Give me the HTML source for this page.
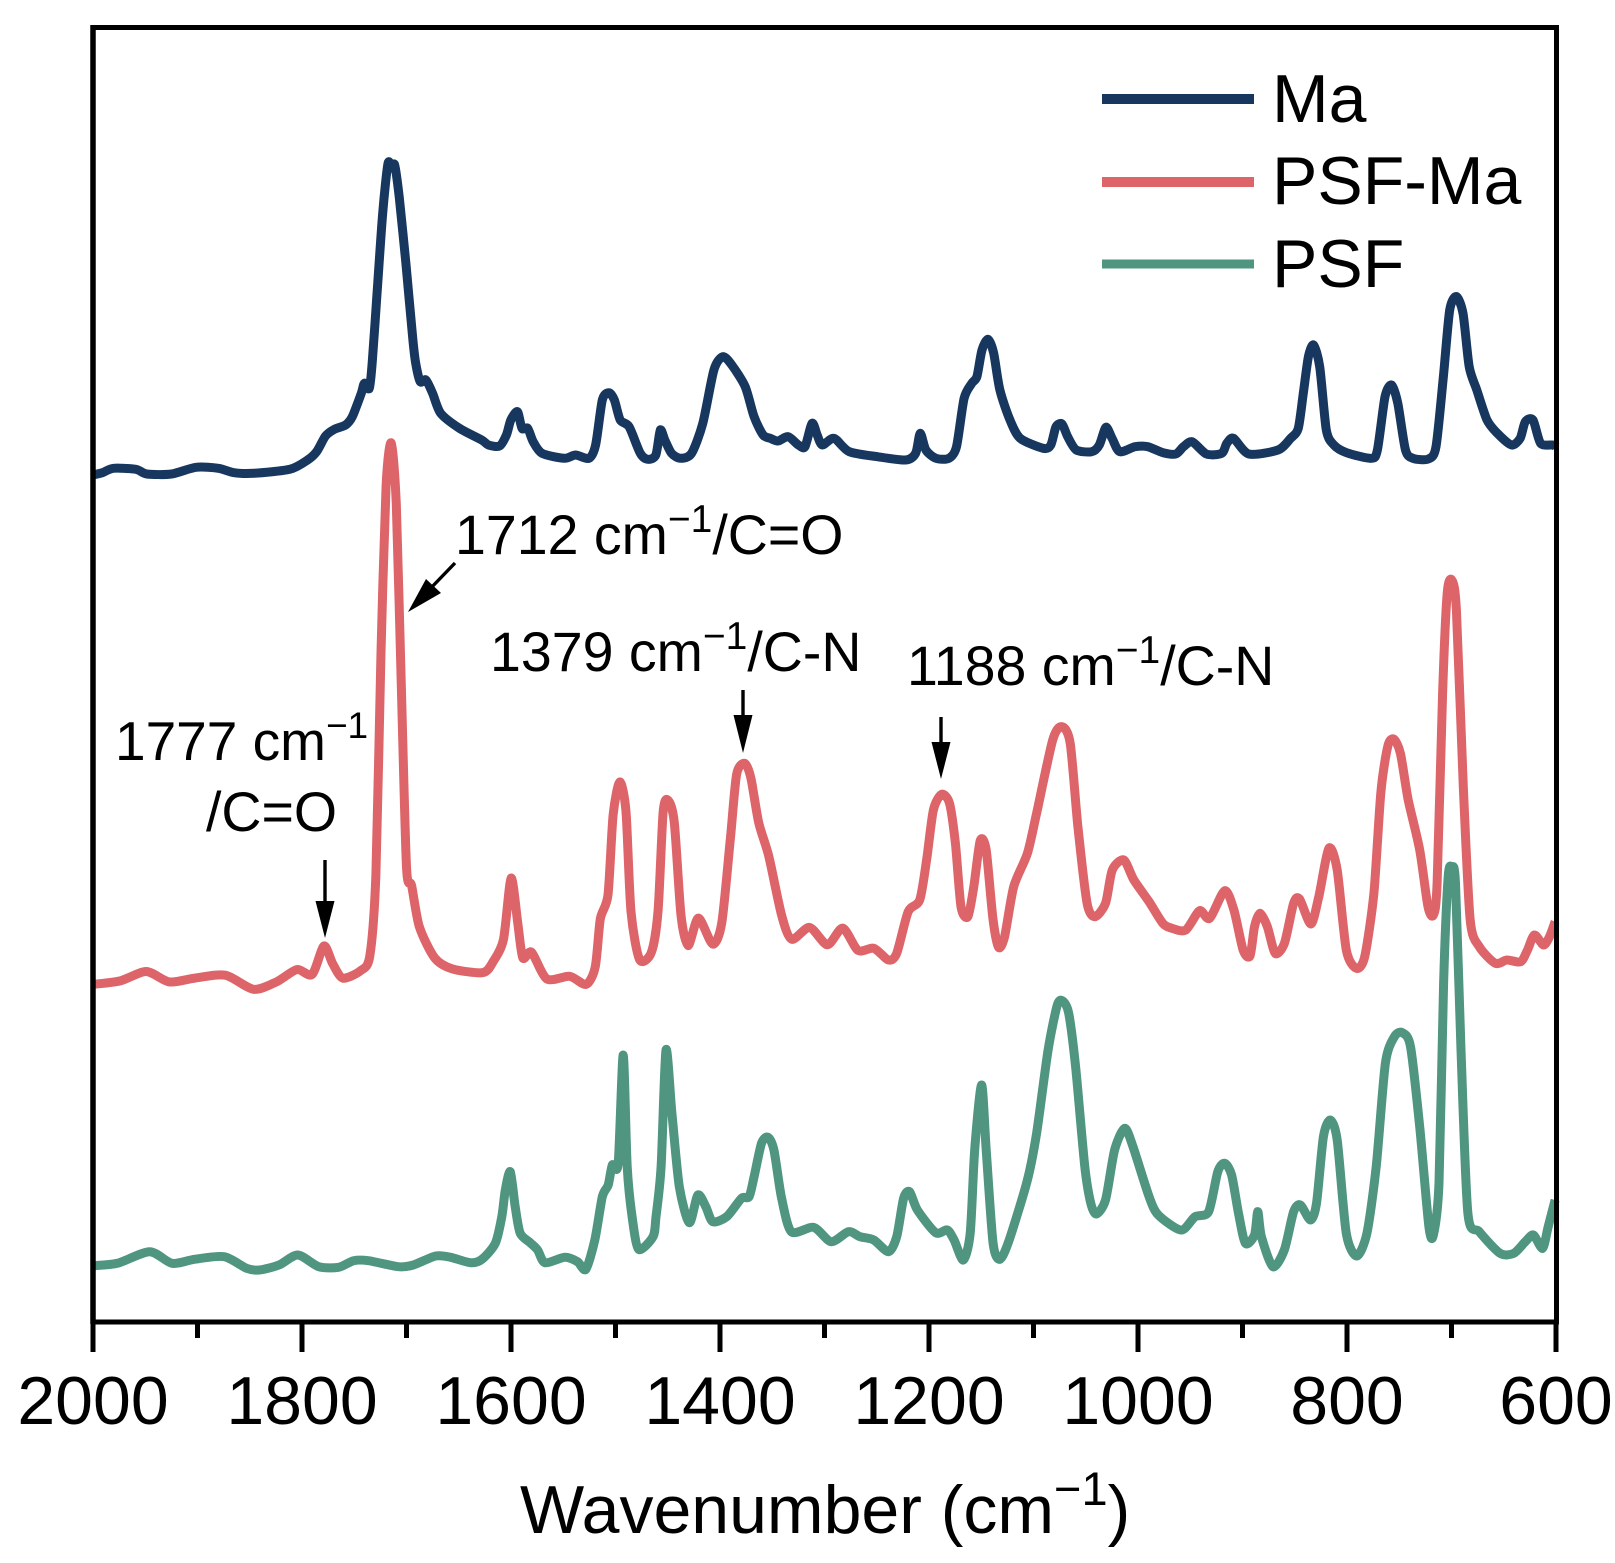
<!DOCTYPE html>
<html lang="en">
<head>
<meta charset="utf-8">
<title>FTIR spectra of Ma, PSF-Ma and PSF</title>
<style>
html,body{margin:0;padding:0;background:#fff;}
svg{display:block;}
text{font-family:"Liberation Sans",Arial,sans-serif;fill:#000;}
</style>
</head>
<body>
<svg id="chart" xmlns="http://www.w3.org/2000/svg" width="1615" height="1563" viewBox="0 0 1615 1563">
  <rect x="0" y="0" width="1615" height="1563" fill="#ffffff"/>
  <g id="series-layer"></g>
  <g id="tick-layer"></g>
  <g id="frame">
    <line x1="90.5" y1="27.5" x2="1559" y2="27.5" stroke="#000" stroke-width="5"/>
    <line x1="90.5" y1="1322" x2="1559" y2="1322" stroke="#000" stroke-width="5"/>
    <line x1="93" y1="25" x2="93" y2="1324" stroke="#000" stroke-width="5.5"/>
    <line x1="1556.5" y1="25" x2="1556.5" y2="1324" stroke="#000" stroke-width="5"/>
  </g>
  <g id="label-layer" font-size="68" text-anchor="middle"></g>
  <text x="520" y="1533" font-size="68">Wavenumber (cm<tspan font-size="47" dy="-28">−1</tspan><tspan dy="28">)</tspan></text>

  <g font-size="68">
    <g>
      <line x1="1102" y1="99" x2="1254" y2="99" stroke="#17375f" stroke-width="10"/>
      <text x="1272" y="122">Ma</text>
    </g>
    <g>
      <line x1="1102" y1="182" x2="1254" y2="182" stroke="#dd6468" stroke-width="10"/>
      <text x="1272" y="204">PSF-Ma</text>
    </g>
    <g>
      <line x1="1102" y1="264" x2="1254" y2="264" stroke="#4f9580" stroke-width="9"/>
      <text x="1272" y="287">PSF</text>
    </g>
  </g>

  <g font-size="55.5">
    <text x="455" y="554">1712 cm<tspan font-size="39" dy="-22">−1</tspan><tspan dy="22">/C=O</tspan></text>
    <text x="490" y="671">1379 cm<tspan font-size="39" dy="-22">−1</tspan><tspan dy="22">/C-N</tspan></text>
    <text x="907" y="685">1188 cm<tspan font-size="39" dy="-22">−1</tspan><tspan dy="22">/C-N</tspan></text>
    <text x="115" y="760" font-size="55">1777 cm<tspan font-size="37" dy="-22">−1</tspan></text>
    <text x="206" y="831">/C=O</text>
  </g>

  <g fill="#000" stroke="none">
    <g>
      <line x1="325" y1="860" x2="325" y2="905" stroke="#000" stroke-width="3.4"/>
      <polygon points="315.5,901 334.5,901 325,938"/>
    </g>
    <g>
      <line x1="743" y1="690" x2="743" y2="720" stroke="#000" stroke-width="3.4"/>
      <polygon points="733.5,715 752.5,715 743,753"/>
    </g>
    <g>
      <line x1="941" y1="717" x2="941" y2="747" stroke="#000" stroke-width="3.4"/>
      <polygon points="931.5,742 950.5,742 941,779"/>
    </g>
    <g>
      <line x1="455" y1="563" x2="428" y2="591" stroke="#000" stroke-width="3.4"/>
      <polygon points="426,579 441,593 408,612"/>
    </g>
  </g>
</svg>
<script>
const majorTickValues = [2000, 1800, 1600, 1400, 1200, 1000, 800, 600];
const minorTickValues = [1900, 1700, 1500, 1300, 1100, 900, 700];
const tickLabels = ["2000", "1800", "1600", "1400", "1200", "1000", "800", "600"];

const maWavenumbers = [2000,1991,1980.4,1959,1948.4,1924.9,1901.4,1880,1865,1845.8,1811.6,1794.6,1786,1777.5,1769,1758.3,1751.9,1743.3,1740.3,1735.6,1732.6,1728.4,1722.8,1717.7,1714.2,1711.3,1707,1700.6,1694.2,1691.2,1686.9,1681.4,1675,1667.3,1649.3,1628,1621.6,1610.9,1604.4,1600.2,1593.8,1589.5,1584,1578.8,1570.3,1548.9,1538.2,1525.4,1519,1512.6,1506.2,1501.1,1495.5,1487,1476.3,1469,1461.4,1457.1,1452.8,1446.4,1437.8,1427.2,1416.5,1405.8,1397.3,1388.7,1375.9,1367.4,1358.8,1351.9,1344.6,1334.8,1325,1318.7,1311.9,1307,1302.1,1290.9,1276.3,1249.4,1222.6,1212.8,1208.4,1203,1193.3,1181,1173.7,1166.4,1159,1154.2,1149.3,1143.5,1138.1,1132.2,1122.5,1112.7,1090.7,1083.4,1078.5,1072.7,1067.3,1059,1044.4,1037,1030.7,1024.8,1017.5,1002.9,990.7,976,963.8,956.5,948.2,934.5,919.9,915,908.6,894,866,853.9,846.6,841.8,836.9,832,826.1,819.8,812.5,800.3,776.8,770.9,763.6,757.3,751.4,744,736.8,722.2,714.8,707.5,701.7,695.3,689,683.1,675.8,666,656.2,642.6,634.3,629.4,622,614.7,602.5,600];
const maIntensity = [847,849.3,853.7,852.7,848,848,854.7,853.7,849.3,848.7,852.7,862,870.3,886,892.7,897,905.3,928.7,938.7,933.7,962,1025.3,1108.7,1158.5,1154,1157,1125.3,1058.7,985.3,958.7,940.3,942,928.7,908.7,893.7,882,877,876,887,902,910.3,893.7,893.7,880.3,868.7,863.7,867,863.7,877,922,929.3,922,902,895.3,868.7,862.7,867,892,882,868.7,863.7,868.7,898.7,952,965.3,957,935.3,905.3,887,883.7,881,885.3,877,875.3,898.7,887,877,883.7,870.3,865.3,862,868.7,888.7,872,863.7,863.7,875.3,923.7,938.7,945.3,972,982.7,968.7,932,902,883.7,873.7,877,895.3,898,885.3,872,870.3,877,894.7,883.7,870.3,875.3,875.3,869.3,868,875.3,880.3,868,868.7,878.7,883.7,868,872,883.7,893.7,928.7,965.3,977,955.3,892,877,869.3,863.7,872,925.3,937,918.7,872,863.7,863,875.3,948.7,1012,1025.5,1008.7,955.3,932,902,888.7,877,883.7,900.3,902,878.7,877,875];

const psfMaWavenumbers = [2000,1973.4,1949,1927,1902.6,1873.3,1846.4,1824.5,1805,1790.3,1779,1770.8,1761,1743.9,1735.1,1729.3,1724.4,1719.5,1714.6,1709.8,1704.9,1700,1695.1,1687.8,1673.1,1656,1626.8,1617,1607.2,1599.9,1593.6,1588.7,1580.4,1565.7,1543.8,1528.1,1519.4,1514.5,1507.2,1502.3,1495.9,1490,1485.2,1476.9,1465.6,1459.3,1454.4,1449.6,1443.7,1437.3,1430.5,1420.7,1407,1398.3,1390,1384.1,1376.3,1370.4,1363,1353.4,1341.1,1331.4,1314.3,1297.2,1282.6,1267.9,1252.8,1238.8,1230.9,1219.9,1208.9,1202.3,1195.8,1187.9,1180.4,1174.7,1169.4,1162.8,1157.1,1151,1145.3,1138.7,1133.4,1127.7,1118.9,1105.8,1097,1081.6,1072.8,1064.9,1057.5,1048.7,1041.2,1031.1,1024.6,1013.6,1003.9,989.4,976.3,967.5,954.3,941.1,931.5,917,908.2,899.4,892.8,888.5,883.2,876.2,868.7,859.9,851.1,845.4,834.5,827,817.3,809.4,800.7,791,783.1,774.3,767.7,761.1,755.4,748.9,741.4,730.4,722.5,717.3,713.8,708.5,704.1,699.7,695.3,688.7,682.1,673.4,658,647,633.8,627.3,620.7,611.9,606.2,600.9];
const psfMaIntensity = [337.6,341.3,350.5,340.1,343.9,346.8,332.7,340.1,352.4,347.6,376,358.7,343.9,351.3,366,447.6,669.8,836.4,879,817.9,632.7,455,436.4,395.7,364.2,353.1,349.4,360.5,382.7,443.9,399.4,364.2,369.8,343.1,345.7,337.6,355,403.1,427.2,506.8,540.1,510.5,410.5,362.4,369.8,410.5,510.5,521.6,499.4,406.8,376.4,403.9,377.9,399.4,484.6,547.6,558.7,543.9,499.4,466.1,406.8,382.7,394.6,377.2,393.9,371.6,373.7,362,368.7,410.3,422,462,512,527.7,518.7,478.7,415.3,405.3,435.3,481.3,472,402,374.7,385.3,435.3,468.7,508.7,582,595.3,578.7,495.3,418.7,405.3,418.7,452,462,442,420.3,398.7,393.7,392,411.3,403.7,431.3,412,372,366,395.3,408.7,395.3,368.7,378.7,418.7,423,398,425.3,473.7,452,372,353.7,365.3,428.7,528.7,575.3,583,568.7,522,472,415.3,407,438.7,628.7,728.7,742,712,535.3,402,375.3,358.7,362,360.3,372,387,377,385.3,400.3];

const psfWavenumbers = [2000,1976.7,1945.8,1924.4,1903,1874.4,1853,1841.1,1822,1804,1784,1765,1750.6,1736.4,1707.8,1693.5,1672.1,1657.8,1638.8,1627.8,1615,1608.8,1605.5,1600.7,1596,1591.2,1581.6,1574.5,1567.4,1548.4,1536.4,1528.4,1519.8,1512.6,1507,1503.1,1497.4,1492.6,1488.8,1484.1,1477.9,1464.1,1461.2,1456.4,1451.7,1446,1438.9,1429.4,1421.2,1413.6,1407,1393.6,1379.4,1372.2,1367.4,1360.3,1354.1,1348.4,1341.3,1331.8,1310.4,1293.7,1277,1266,1252.8,1238.8,1230.9,1224.3,1218.6,1211.1,1193.6,1182.6,1176,1167.2,1160.6,1156.3,1149.7,1145.3,1138.7,1132.1,1123.3,1105.8,1097,1086,1077.2,1072,1066.3,1059.7,1050.9,1045.2,1039.9,1031.1,1022.4,1012.7,1004.8,989.4,980.6,958.7,945.5,932.4,923.6,917,910.4,903.8,897.2,888.5,885.4,881.9,870.9,860,851.1,844.6,834.9,829.2,822.6,816,809.4,800.7,790.6,781,772.1,763.3,754.6,747.1,739.2,730.4,721.6,717.3,712,707.6,703.2,699.7,696.2,690.9,684.3,673.4,653.5,640.4,629.4,621.6,612.8,607.5,600.9];
const psfIntensity = [56.3,58.7,70.3,58.7,62.7,65.3,53.7,52,57,67,55.3,54.7,61.3,61.3,55.3,57,66,64.7,59.3,62.7,78.7,105.3,132,150.3,115.3,88.7,79.3,72,59.3,64.7,60.3,52.7,82,125.3,137,157,158.7,267,155.3,105.3,72.7,85.3,105.3,155.3,272,208.7,135.3,99.3,127,115.3,100.3,105.3,123.7,125.3,145.3,178.7,184.7,172,125.3,90.3,94.7,80.3,90.3,85.3,82,70.3,85.3,123.7,130.3,112,89.3,92,82,62,88.7,172,237,172,78.7,62.7,82,142,188.7,272,317,321,308.7,255.3,155.3,118.7,108,122,172,193.7,175.3,125.3,107,92,105.3,110.3,150.3,158.7,147,108.7,78.7,87,110.3,85.3,55.3,72,110.3,117,102,118.7,185.3,202,182,88.7,66,88.7,155.3,258.7,285.3,289.3,275.3,195.3,95.3,87,138.7,338.7,445.3,454.5,438.7,272,108.7,90.3,68.7,68.7,80.3,87,73.7,95.3,122];

const SVG_NS = "http://www.w3.org/2000/svg";
const X_LEFT = 93, X_RIGHT = 1556, Y_BOTTOM = 1322, Y_TOP = 27;
const X_MAX_VALUE = 2000, X_MIN_VALUE = 600, Y_MIN_VALUE = 0, Y_MAX_VALUE = 1295;

function xScale(w) {
  return X_LEFT + (X_MAX_VALUE - w) * (X_RIGHT - X_LEFT) / (X_MAX_VALUE - X_MIN_VALUE);
}
function yScale(v) {
  return Y_BOTTOM - (v - Y_MIN_VALUE) * (Y_BOTTOM - Y_TOP) / (Y_MAX_VALUE - Y_MIN_VALUE);
}
function smoothPath(xs, ys) {
  const pts = xs.map(function (w, i) { return [xScale(w), yScale(ys[i])]; });
  let d = "M" + pts[0][0].toFixed(1) + " " + pts[0][1].toFixed(1);
  const k = 0.13;
  for (let i = 0; i < pts.length - 1; i++) {
    const p0 = pts[Math.max(i - 1, 0)], p1 = pts[i], p2 = pts[i + 1], p3 = pts[Math.min(i + 2, pts.length - 1)];
    const c1x = p1[0] + (p2[0] - p0[0]) * k, c1y = p1[1] + (p2[1] - p0[1]) * k;
    const c2x = p2[0] - (p3[0] - p1[0]) * k, c2y = p2[1] - (p3[1] - p1[1]) * k;
    d += "C" + c1x.toFixed(1) + " " + c1y.toFixed(1) + " " + c2x.toFixed(1) + " " + c2y.toFixed(1) + " " + p2[0].toFixed(1) + " " + p2[1].toFixed(1);
  }
  return d;
}

const seriesLayer = document.getElementById("series-layer");
function drawSeries(name, xs, ys, color) {
  const path = document.createElementNS(SVG_NS, "path");
  path.setAttribute("d", smoothPath(xs, ys));
  path.setAttribute("fill", "none");
  path.setAttribute("stroke", color);
  path.setAttribute("stroke-width", "9");
  path.setAttribute("stroke-linejoin", "round");
  path.setAttribute("stroke-linecap", "butt");
  
  
  seriesLayer.appendChild(path);
}
drawSeries("series-ma", maWavenumbers, maIntensity, "#17375f");
drawSeries("series-psf-ma", psfMaWavenumbers, psfMaIntensity, "#dd6468");
drawSeries("series-psf", psfWavenumbers, psfIntensity, "#4f9580");

const tickLayer = document.getElementById("tick-layer");
const labelLayer = document.getElementById("label-layer");
majorTickValues.forEach(function (value, i) {
  const tick = document.createElementNS(SVG_NS, "line");
  tick.setAttribute("x1", xScale(value));
  tick.setAttribute("x2", xScale(value));
  tick.setAttribute("y1", Y_BOTTOM);
  tick.setAttribute("y2", 1352);
  tick.setAttribute("stroke", "#000");
  tick.setAttribute("stroke-width", "5");
  
  
  tickLayer.appendChild(tick);
  const label = document.createElementNS(SVG_NS, "text");
  label.setAttribute("x", xScale(value));
  label.setAttribute("y", 1424);
  label.textContent = tickLabels[i];
  
  
  labelLayer.appendChild(label);
});
minorTickValues.forEach(function (value) {
  const tick = document.createElementNS(SVG_NS, "line");
  tick.setAttribute("x1", xScale(value));
  tick.setAttribute("x2", xScale(value));
  tick.setAttribute("y1", Y_BOTTOM);
  tick.setAttribute("y2", 1338);
  tick.setAttribute("stroke", "#000");
  tick.setAttribute("stroke-width", "5");
  
  
  tickLayer.appendChild(tick);
});
</script>
</body>
</html>
